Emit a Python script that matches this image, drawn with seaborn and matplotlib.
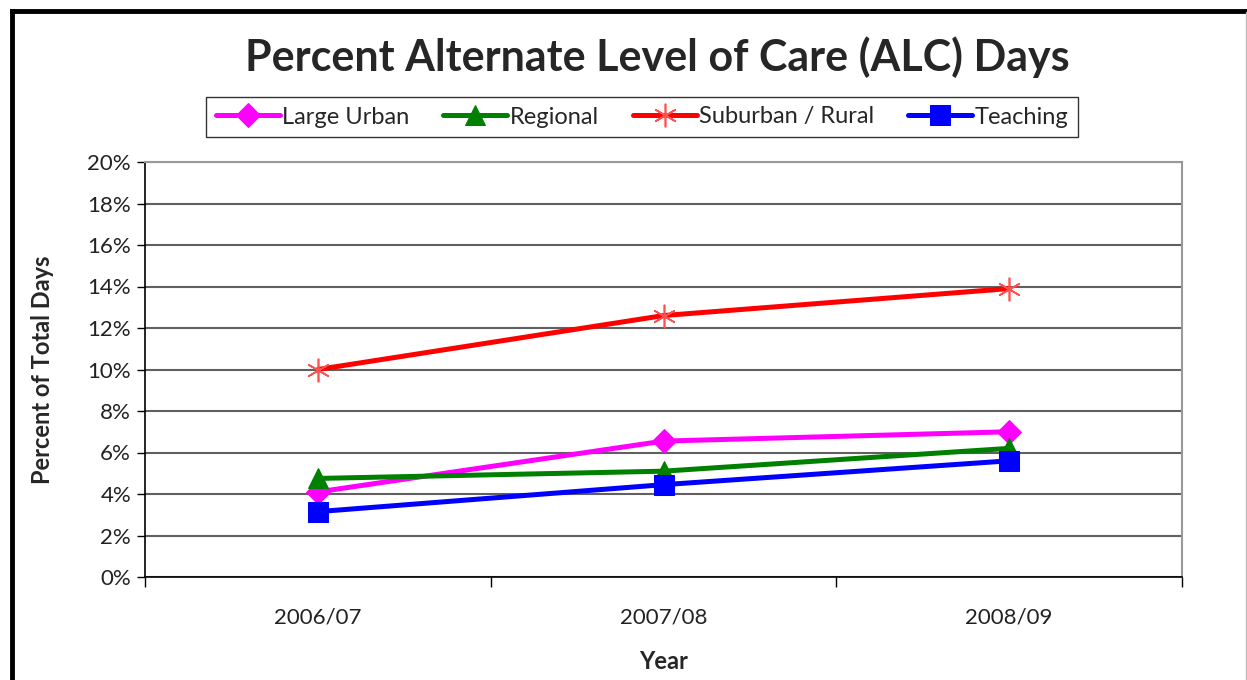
import matplotlib
matplotlib.use('Agg')
import matplotlib.pyplot as plt
import seaborn as sns
import pandas as pd
from matplotlib.lines import Line2D
from matplotlib.ticker import PercentFormatter, FixedLocator

# Data (percent of total days)
years = ['2006/07', '2007/08', '2008/09']
large_urban = [4.1, 6.55, 7.0]
regional = [4.75, 5.1, 6.2]
suburban_rural = [10.0, 12.6, 13.9]
teaching = [3.15, 4.45, 5.6]

series = {
    'Large Urban': large_urban,
    'Regional': regional,
    'Suburban / Rural': suburban_rural,
    'Teaching': teaching,
}
styles = {
    'Large Urban': dict(color='#ff00ff', marker='D', markersize=12,
                        markeredgecolor='#ff00ff'),
    'Regional': dict(color='#008000', marker='^', markersize=14,
                     markeredgecolor='#008000'),
    'Suburban / Rural': dict(color='#ff0000', marker=(6, 2, 0), markersize=17,
                             markeredgewidth=1.2, markeredgecolor='#ff5050'),
    'Teaching': dict(color='#0000ff', marker='s', markersize=14,
                     markeredgecolor='#0000ff'),
}

rows = []
for name, vals in series.items():
    for i, v in enumerate(vals):
        rows.append({'series': name, 'pos': i, 'year': years[i], 'value': v})
df = pd.DataFrame(rows)

sns.set_style('white')
plt.rcParams['font.family'] = ['Lato', 'DejaVu Sans']

fig = plt.figure(figsize=(12.47, 6.8), dpi=100)
ax = fig.add_axes([145 / 1247, 1 - 577 / 680, (1182 - 145) / 1247, (577 - 162) / 680])

for name in series:
    sub = df[df['series'] == name]
    sns.lineplot(data=sub, x='pos', y='value', ax=ax, label=name,
                 linewidth=3.6, **styles[name])

ax.set_xlim(-0.5, 2.5)
ax.set_ylim(0, 20)
ax.yaxis.set_major_locator(FixedLocator(range(0, 21, 2)))
ax.yaxis.set_major_formatter(PercentFormatter(decimals=0))
ax.set_xticks(range(len(years)))
ax.set_xticklabels(years)
ax.xaxis.set_minor_locator(FixedLocator([-0.5, 0.5, 1.5, 2.5]))
ax.tick_params(axis='x', which='major', length=0, pad=22, labelsize=16, colors='#222222')
ax.tick_params(axis='x', which='minor', length=7, width=1, color='black', direction='out', bottom=True)
ax.tick_params(axis='y', length=6, width=1, color='black', direction='out', left=True,
               labelsize=16, labelcolor='#222222', pad=4)

ax.grid(axis='y', color='#606060', linewidth=1.5)
ax.set_axisbelow(True)
for s in ['left', 'bottom']:
    ax.spines[s].set_color('black')
    ax.spines[s].set_linewidth(1.2)
for s in ['top', 'right']:
    ax.spines[s].set_color('#999999')
    ax.spines[s].set_linewidth(1.5)

ax.set_xlabel('Year', fontsize=17, fontweight='bold', labelpad=16)
ax.set_ylabel('Percent of Total Days', fontsize=17, fontweight='bold', labelpad=24)

leg = ax.legend(loc='center', bbox_to_anchor=(642 / 1247, 1 - 117 / 680),
                bbox_transform=fig.transFigure, ncol=4, frameon=True, fancybox=False,
                fontsize=17, handlelength=2.7, handletextpad=0.1, columnspacing=1.45,
                borderpad=0.42, edgecolor='black')
leg.get_frame().set_linewidth(1.0)

fig.text(657 / 1247, 1 - 57 / 680, 'Percent Alternate Level of Care (ALC) Days',
         ha='center', va='center', fontsize=31, fontweight='bold')

# outer chart border (left and top thick black, right thin grey)
fig.add_artist(Line2D([12 / 1247, 12 / 1247], [0, 1 - 11 / 680], color='black', linewidth=3.5,
                      transform=fig.transFigure, solid_capstyle='projecting'))
fig.add_artist(Line2D([12 / 1247, 1246 / 1247], [1 - 11 / 680, 1 - 11 / 680], color='black',
                      linewidth=3.5, transform=fig.transFigure, solid_capstyle='projecting'))
fig.add_artist(Line2D([1246 / 1247, 1246 / 1247], [0, 1 - 12 / 680], color='#bbbbbb',
                      linewidth=1, transform=fig.transFigure))

fig.savefig('out.png', dpi=100)
